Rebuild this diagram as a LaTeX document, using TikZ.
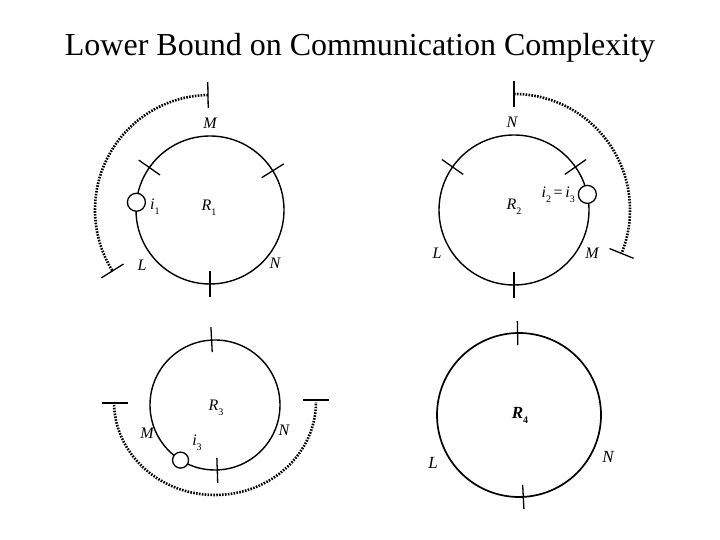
\documentclass[tikz,border=0pt]{standalone}
\usepackage{fontspec}
\setmainfont{Liberation Serif}
\usetikzlibrary{calc}
\newcommand{\lowsub}[1]{\raisebox{-0.3em}{\fontsize{10}{11}\selectfont\upshape #1}}
\begin{document}
\begin{tikzpicture}[x=1pt,y=1pt,
  ring/.style={circle,draw,line width=1.4pt,inner sep=0pt},
  bead/.style={circle,draw,fill=white,line width=1.3pt,inner sep=0pt,minimum size=18pt},
  tickmark/.style={line width=1.3pt},
  dotarc/.style={line width=2.6pt,dash pattern=on 1.6pt off 1.3pt},
  lab/.style={font=\fontsize{16}{18}\selectfont\itshape,inner sep=0pt}]
\useasboundingbox (0,0) rectangle (720,540);
\node[font=\fontsize{32}{36}\selectfont] (title) at (360,492) {Lower Bound on Communication Complexity};

% ---------- R1 ----------
\node[ring,minimum size=148pt] (c1) at (210,330) {};
\foreach \a in {145,32,270}
  \draw[tickmark] ($(c1.center)+(\a:61pt)$) -- ($(c1.center)+(\a:87pt)$);
\node[bead] (b1) at ($(c1.center)+(174:74pt)$) {};
\node[lab] (m1) at (210,417) {M};
\node[lab,anchor=west] (i1) at (150,333) {i\lowsub{1}};
\node[lab] (r1) at (209,332) {R\lowsub{1}};
\node[lab] (l1) at (142,275) {L};
\node[lab] (n1) at (275,277) {N};
\coordinate (d1a) at ($(c1.center)+(91:115pt)$);
\coordinate (d1b) at ($(c1.center)+(212:115pt)$);
\draw[dotarc] (d1a) arc[start angle=91,end angle=212,radius=115pt];
\draw[tickmark] ($(c1.center)+(91:102pt)$) -- ($(c1.center)+(91:128pt)$);
\draw[tickmark] ($(c1.center)+(212:102pt)$) -- ($(c1.center)+(212:128pt)$);

% ---------- R2 ----------
\node[ring,minimum size=150pt] (c2) at (514,330) {};
\foreach \a in {145,35,270}
  \draw[tickmark] ($(c2.center)+(\a:62pt)$) -- ($(c2.center)+(\a:88pt)$);
\node[bead] (b2) at ($(c2.center)+(12:75pt)$) {};
\node[lab] (n2) at (512,418) {N};
\node[lab,anchor=east] (i2) at (575,345) {i\lowsub{2}\,\upshape=\,\itshape i\lowsub{3}};
\node[lab] (r2) at (514,333) {R\lowsub{2}};
\node[lab] (l2) at (437,287) {L};
\node[lab] (m2) at (592,287) {M};
\coordinate (d2a) at ($(c2.center)+(90:116pt)$);
\draw[dotarc] (d2a) arc[start angle=90,end angle=-22,radius=116pt];
\draw[tickmark] ($(c2.center)+(90:103pt)$) -- ($(c2.center)+(90:129pt)$);
\draw[tickmark] ($(c2.center)+(-22:103pt)$) -- ($(c2.center)+(-22:129pt)$);

% ---------- R3 ----------
\node[ring,minimum size=130pt] (c3) at (215,135) {};
\foreach \a in {93,272}
  \draw[tickmark] ($(c3.center)+(\a:53pt)$) -- ($(c3.center)+(\a:78pt)$);
\node[bead,minimum size=16pt] (b3) at ($(c3.center)+(238:65pt)$) {};
\node[lab] (r3) at (216,132) {R\lowsub{3}};
\node[lab] (m3) at (147,107) {M};
\node[lab] (n3) at (284,110) {N};
\node[lab] (i3) at (197,97) {i\lowsub{3}};
\coordinate (d3a) at (114,138);
\draw[dotarc] (d3a) arc[start angle=180,end angle=360,x radius=101pt,y radius=93pt];
\draw[tickmark] (102,137) -- (128,137);
\draw[tickmark] (303,140) -- (329,140);

% ---------- R4 ----------
\node[ring,minimum size=164pt,line width=1.7pt] (c4) at (519,125) {};
\draw[tickmark] ($(c4.center)+(91:70pt)$) -- ($(c4.center)+(91:94pt)$);
\draw[tickmark] ($(c4.center)+(273:70pt)$) -- ($(c4.center)+(273:94pt)$);
\node[lab,font=\fontsize{17}{19}\selectfont\itshape\bfseries] (r4) at (520,125) {R\lowsub{4}};
\node[lab,font=\fontsize{17}{19}\selectfont\itshape] (l4) at (433,77) {L};
\node[lab,font=\fontsize{17}{19}\selectfont\itshape] (n4) at (608,83) {N};
\end{tikzpicture}
\end{document}
